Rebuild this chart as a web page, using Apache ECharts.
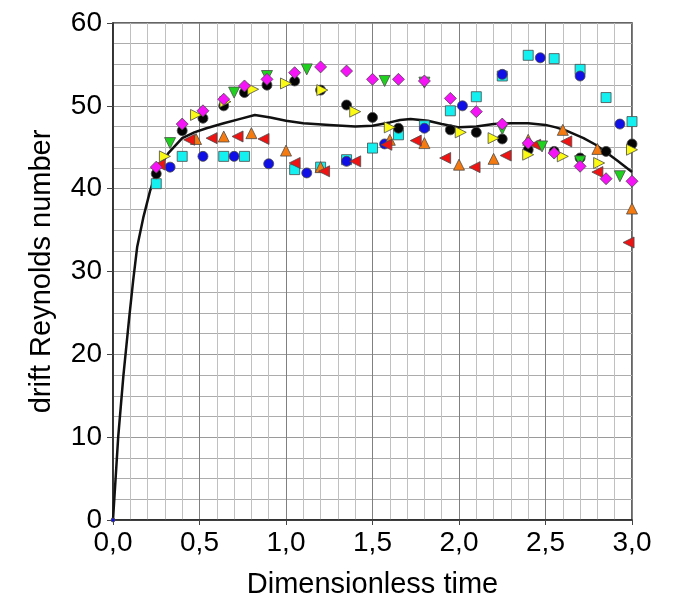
<!DOCTYPE html>
<html>
<head>
<meta charset="utf-8">
<title>drift Reynolds number vs dimensionless time</title>
<script src="https://cdn.jsdelivr.net/npm/echarts@6/dist/echarts.min.js"></script>
<style>
  html, body { margin: 0; padding: 0; background: #fff; }
  #chart { width: 677px; height: 604px; }
</style>
</head>
<body>
<div id="chart"></div>
<script>
// Axis tick labels (decimal comma)
const xTickLabels = ['0,0', '0,5', '1,0', '1,5', '2,0', '2,5', '3,0'];
const yTickLabels = ['0', '10', '20', '30', '40', '50', '60'];

// Measured runs: [dimensionless time, drift Reynolds number]
const blackRun = [[0.25,41.8],[0.40,47.0],[0.52,48.5],[0.64,50.0],[0.76,51.6],[0.89,52.5],[1.05,53.0],[1.20,51.9],[1.35,50.1],[1.50,48.6],[1.65,47.3],[1.95,47.1],[2.10,46.8],[2.25,46.0],[2.40,44.7],[2.55,44.5],[2.70,43.7],[2.85,44.5],[3.00,45.4]];
const blueRun = [[0,0],[0.33,42.6],[0.52,43.9],[0.70,43.9],[0.90,43.0],[1.12,41.9],[1.35,43.3],[1.57,45.4],[1.80,47.3],[2.02,50.0],[2.25,53.8],[2.47,55.8],[2.70,53.6],[2.93,47.8]];
const cyanRun = [[0.25,40.6],[0.40,43.9],[0.64,43.9],[0.76,43.9],[1.05,42.3],[1.20,42.6],[1.35,43.5],[1.50,44.9],[1.65,46.5],[1.80,47.6],[1.95,49.4],[2.10,51.1],[2.25,53.6],[2.40,56.1],[2.55,55.7],[2.70,54.4],[2.85,51.0],[3.00,48.1]];
const greenRun = [[0.33,45.5],[0.70,51.6],[0.89,53.6],[1.12,54.4],[1.57,53.0],[1.80,52.8],[2.25,47.2],[2.48,45.1],[2.70,43.3],[2.93,41.5]];
const magentaRun = [[0.25,42.6],[0.40,47.8],[0.52,49.4],[0.64,50.8],[0.76,52.4],[0.89,53.2],[1.05,54.0],[1.20,54.7],[1.35,54.2],[1.50,53.2],[1.65,53.2],[1.80,53.0],[1.95,50.9],[2.10,49.3],[2.25,47.8],[2.40,45.5],[2.55,44.3],[2.70,42.7],[2.85,41.2],[3.00,40.9]];
const yellowRun = [[0.30,43.9],[0.48,48.9],[0.65,50.5],[0.81,52.0],[1.00,52.7],[1.21,51.9],[1.40,49.3],[1.60,47.4],[2.01,46.8],[2.20,46.1],[2.40,44.1],[2.60,43.9],[2.81,43.1],[3.00,44.7]];
const orangeRun = [[0.48,46.0],[0.64,46.3],[0.80,46.7],[1.00,44.6],[1.20,42.6],[1.60,45.9],[1.80,45.5],[2.00,42.9],[2.20,43.6],[2.40,45.9],[2.60,47.1],[2.80,44.8],[3.00,37.6]];
const redRun = [[0.27,42.9],[0.44,45.9],[0.57,46.1],[0.72,46.3],[0.87,46.0],[1.05,43.1],[1.22,42.1],[1.40,43.3],[1.58,45.3],[1.75,45.8],[1.92,43.7],[2.09,42.6],[2.27,44.0],[2.44,45.3],[2.62,45.7],[2.80,42.0],[2.98,33.5]];

// Mean curve
const meanCurve = [[0,0],[0.03,10],[0.06,17.4],[0.094,24.5],[0.117,29],[0.14,33],[0.175,36.5],[0.214,39.7],[0.25,42],[0.32,44.3],[0.40,46.1],[0.47,46.8],[0.54,47.3],[0.64,47.9],[0.73,48.4],[0.82,48.9],[0.91,48.6],[1.0,48.2],[1.1,47.9],[1.25,47.7],[1.4,47.5],[1.5,47.6],[1.6,48.0],[1.66,48.3],[1.72,48.4],[1.82,48.2],[1.9,47.8],[2.0,47.4],[2.1,47.5],[2.2,47.8],[2.3,47.9],[2.4,47.9],[2.5,47.7],[2.56,47.4],[2.62,47.0],[2.72,46.1],[2.79,45.3],[2.85,44.4],[2.92,43.3],[3.0,42.0]];

const FONT = '"Liberation Sans", Arial, sans-serif';
const TRI_DOWN = 'path://M0,0L10,0L5,10Z';
const TRI_RIGHT = 'path://M0,0L10,5L0,10Z';
const TRI_LEFT = 'path://M10,0L0,5L10,10Z';

function scatter(data, color, symbol, size) {
  return {
    type: 'scatter',
    data: data,
    symbol: symbol,
    symbolSize: (v) => (v[0] === 0 && v[1] === 0 ? 4 : size),
    itemStyle: { color: color, borderColor: '#4a4a4a', borderWidth: 0.8, opacity: 1 },
    emphasis: { disabled: true },
    clip: false
  };
}

const chart = echarts.init(document.getElementById('chart'), null, { renderer: 'canvas' });
chart.setOption({
  animation: false,
  backgroundColor: '#ffffff',
  grid: { left: 113, right: 45, top: 23, bottom: 79, show: true, borderColor: '#333', borderWidth: 1.5, backgroundColor: 'transparent' },
  xAxis: {
    type: 'value', min: 0, max: 3, interval: 0.5,
    name: 'Dimensionless time', nameLocation: 'middle', nameGap: 50,
    nameTextStyle: { fontFamily: FONT, fontSize: 29, color: '#000' },
    axisLine: { show: true, lineStyle: { color: '#222', width: 1.5 } },
    axisTick: { show: true, inside: false, length: 5, lineStyle: { color: '#444' } },
    axisLabel: { fontFamily: FONT, fontSize: 28, color: '#000', margin: 9,
      formatter: (v) => xTickLabels[Math.round(v / 0.5)] },
    splitLine: { show: true, lineStyle: { color: '#808080', width: 1 } },
    minorTick: { show: false, splitNumber: 5 },
    minorSplitLine: { show: true, lineStyle: { color: '#c0c0c0', width: 1 } }
  },
  yAxis: {
    type: 'value', min: 0, max: 60, interval: 10,
    name: 'drift Reynolds number', nameLocation: 'middle', nameGap: 57,
    nameTextStyle: { fontFamily: FONT, fontSize: 29, color: '#000' },
    axisLine: { show: true, lineStyle: { color: '#222', width: 1.5 } },
    axisTick: { show: true, inside: false, length: 6, lineStyle: { color: '#444' } },
    axisLabel: { fontFamily: FONT, fontSize: 28, color: '#000', margin: 11,
      formatter: (v) => yTickLabels[Math.round(v / 10)] },
    splitLine: { show: true, lineStyle: { color: '#9a9a9a', width: 1 } },
    minorTick: { show: false, splitNumber: 4 },
    minorSplitLine: { show: true, lineStyle: { color: '#acacac', width: 1 } }
  },
  series: [
    {
      type: 'line', data: meanCurve, showSymbol: false, smooth: false,
      lineStyle: { color: '#111', width: 2.5, join: 'round' }, z: 1, clip: true, emphasis: { disabled: true }
    },
    scatter(cyanRun, '#14f0f0', 'rect', 10),
    scatter(blueRun, '#1010e6', 'circle', 10),
    scatter(orangeRun, '#f57a10', 'triangle', 11),
    scatter(redRun, '#ee1414', TRI_LEFT, 11),
    scatter(blackRun, '#050505', 'circle', 10),
    scatter(greenRun, '#1ed21e', TRI_DOWN, 11),
    scatter(yellowRun, '#fafa14', TRI_RIGHT, 11),
    scatter(magentaRun, '#f514f5', 'diamond', 12)
  ]
});
</script>
</body>
</html>
